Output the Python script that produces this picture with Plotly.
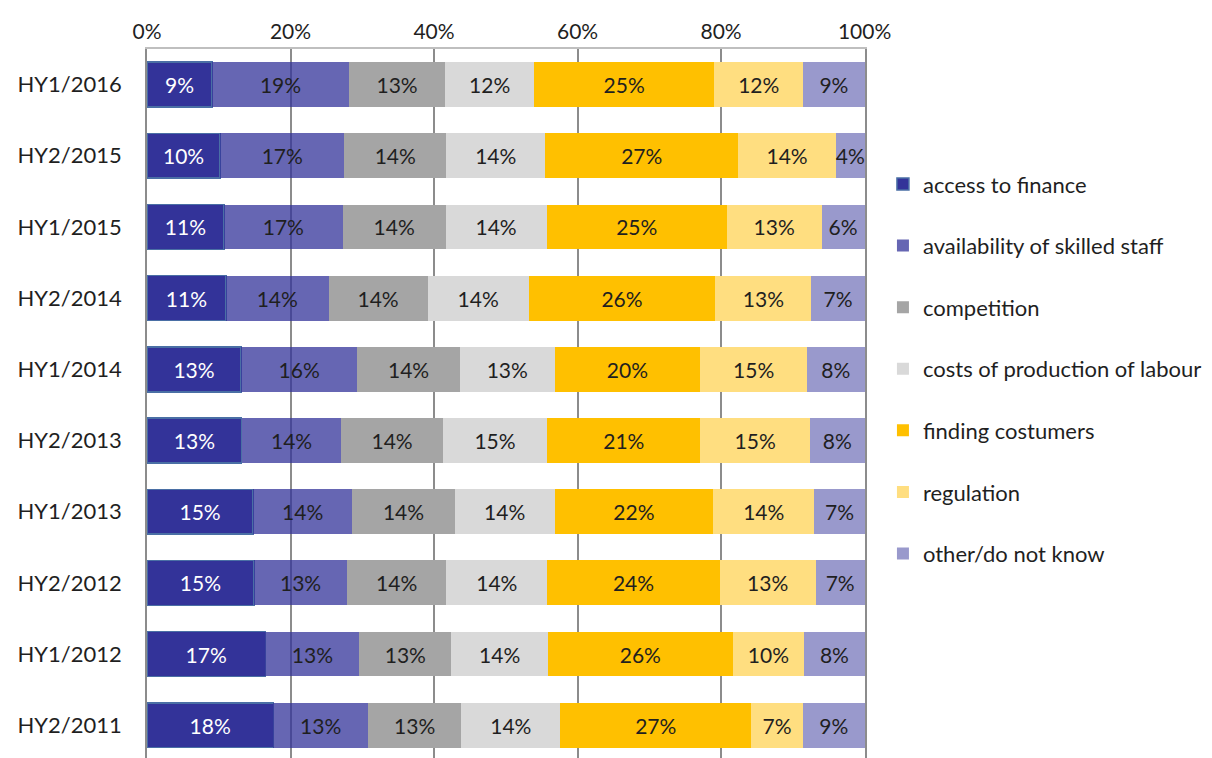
import plotly.graph_objects as go

periods = ["HY1/2016", "HY2/2015", "HY1/2015", "HY2/2014", "HY1/2014",
           "HY2/2013", "HY1/2013", "HY2/2012", "HY1/2012", "HY2/2011"]

access_to_finance = [9.05, 10.2, 10.7, 11.0, 13.1, 13.2, 14.8, 14.9, 16.5, 17.6]
skilled_staff     = [19.1, 17.3, 16.6, 14.3, 16.2, 13.9, 13.8, 13.0, 13.1, 13.2]
competition       = [13.4, 14.2, 14.3, 13.8, 14.3, 14.1, 14.3, 13.8, 12.8, 13.0]
costs_production  = [12.4, 13.8, 14.1, 14.1, 13.2, 14.6, 13.9, 14.1, 13.5, 13.8]
finding_customers = [25.1, 26.9, 25.1, 26.0, 20.3, 21.3, 22.1, 24.0, 25.7, 26.6]
regulation        = [12.4, 13.6, 13.2, 13.4, 14.9, 15.3, 14.1, 13.4, 10.0, 7.2]
other_dont_know   = [8.55, 4.0, 6.0, 7.4, 8.0, 7.6, 7.0, 6.8, 8.4, 8.6]

series_names = ["access to finance", "availability of skilled staff", "competition",
                "costs of production of labour", "finding costumers", "regulation",
                "other/do not know"]
series_values = [access_to_finance, skilled_staff, competition, costs_production,
                 finding_customers, regulation, other_dont_know]
colors = ["#333399", "rgba(51,51,153,0.75)", "#A5A5A5", "#D9D9D9", "#FFC000",
          "#FFDE80", "#9999CC"]
text_colors = ["#FFFFFF", "#1F1F1F", "#1F1F1F", "#1F1F1F", "#1F1F1F", "#1F1F1F", "#1F1F1F"]

FONT = "Lato"
LABEL_SIZE = 21
fig = go.Figure()
for i, (name, vals) in enumerate(zip(series_names, series_values)):
    fig.add_trace(go.Bar(
        y=periods, x=vals, name=name, orientation="h",
        marker=dict(color=colors[i],
                    line=dict(color="#4A6FA5" if i == 0 else "rgba(0,0,0,0)",
                              width=1.5 if i == 0 else 0)),
        texttemplate="%{x:.0f}%", textposition="inside", insidetextanchor="middle",
        textangle=0, cliponaxis=False,
        textfont=dict(color=text_colors[i], size=LABEL_SIZE, family=FONT),
        legendgroup=name, hoverinfo="skip",
    ))

fig.update_layout(
    barmode="stack", bargap=0.37,
    width=1204, height=750,
    margin=dict(l=139, r=347, t=41, b=0),
    paper_bgcolor="white", plot_bgcolor="white",
    uniformtext=dict(minsize=LABEL_SIZE, mode="show"),
    font=dict(family=FONT, size=22, color="#1F1F1F"),
    legend=dict(x=1.025, xanchor="left", y=0.839, yanchor="top",
                traceorder="grouped", tracegroupgap=30,
                font=dict(size=22, family=FONT, color="#1F1F1F"),
                itemwidth=30),
    showlegend=True,
)
fig.update_xaxes(side="top", range=[0, 100.06], tickvals=[0, 20, 40, 60, 80, 100],
                 ticktext=["0%", "20%", "40%", "60%", "80%", "100%"],
                 showgrid=True, gridcolor="#8C8C8C", gridwidth=1.5,
                 zeroline=False, showline=True, linecolor="#BFBFBF", linewidth=1.5,
                 tickfont=dict(family=FONT, size=21, color="#1F1F1F"),
                 ticks="", fixedrange=True)
fig.update_yaxes(range=[9.46, -0.5], autorange=False, showgrid=False,
                 showline=True, mirror=True, linecolor="#8C8C8C", linewidth=1.5,
                 ticks="", ticklabelstandoff=19,
                 tickfont=dict(family=FONT, size=22, color="#1F1F1F"))

fig.write_html("out.html")
